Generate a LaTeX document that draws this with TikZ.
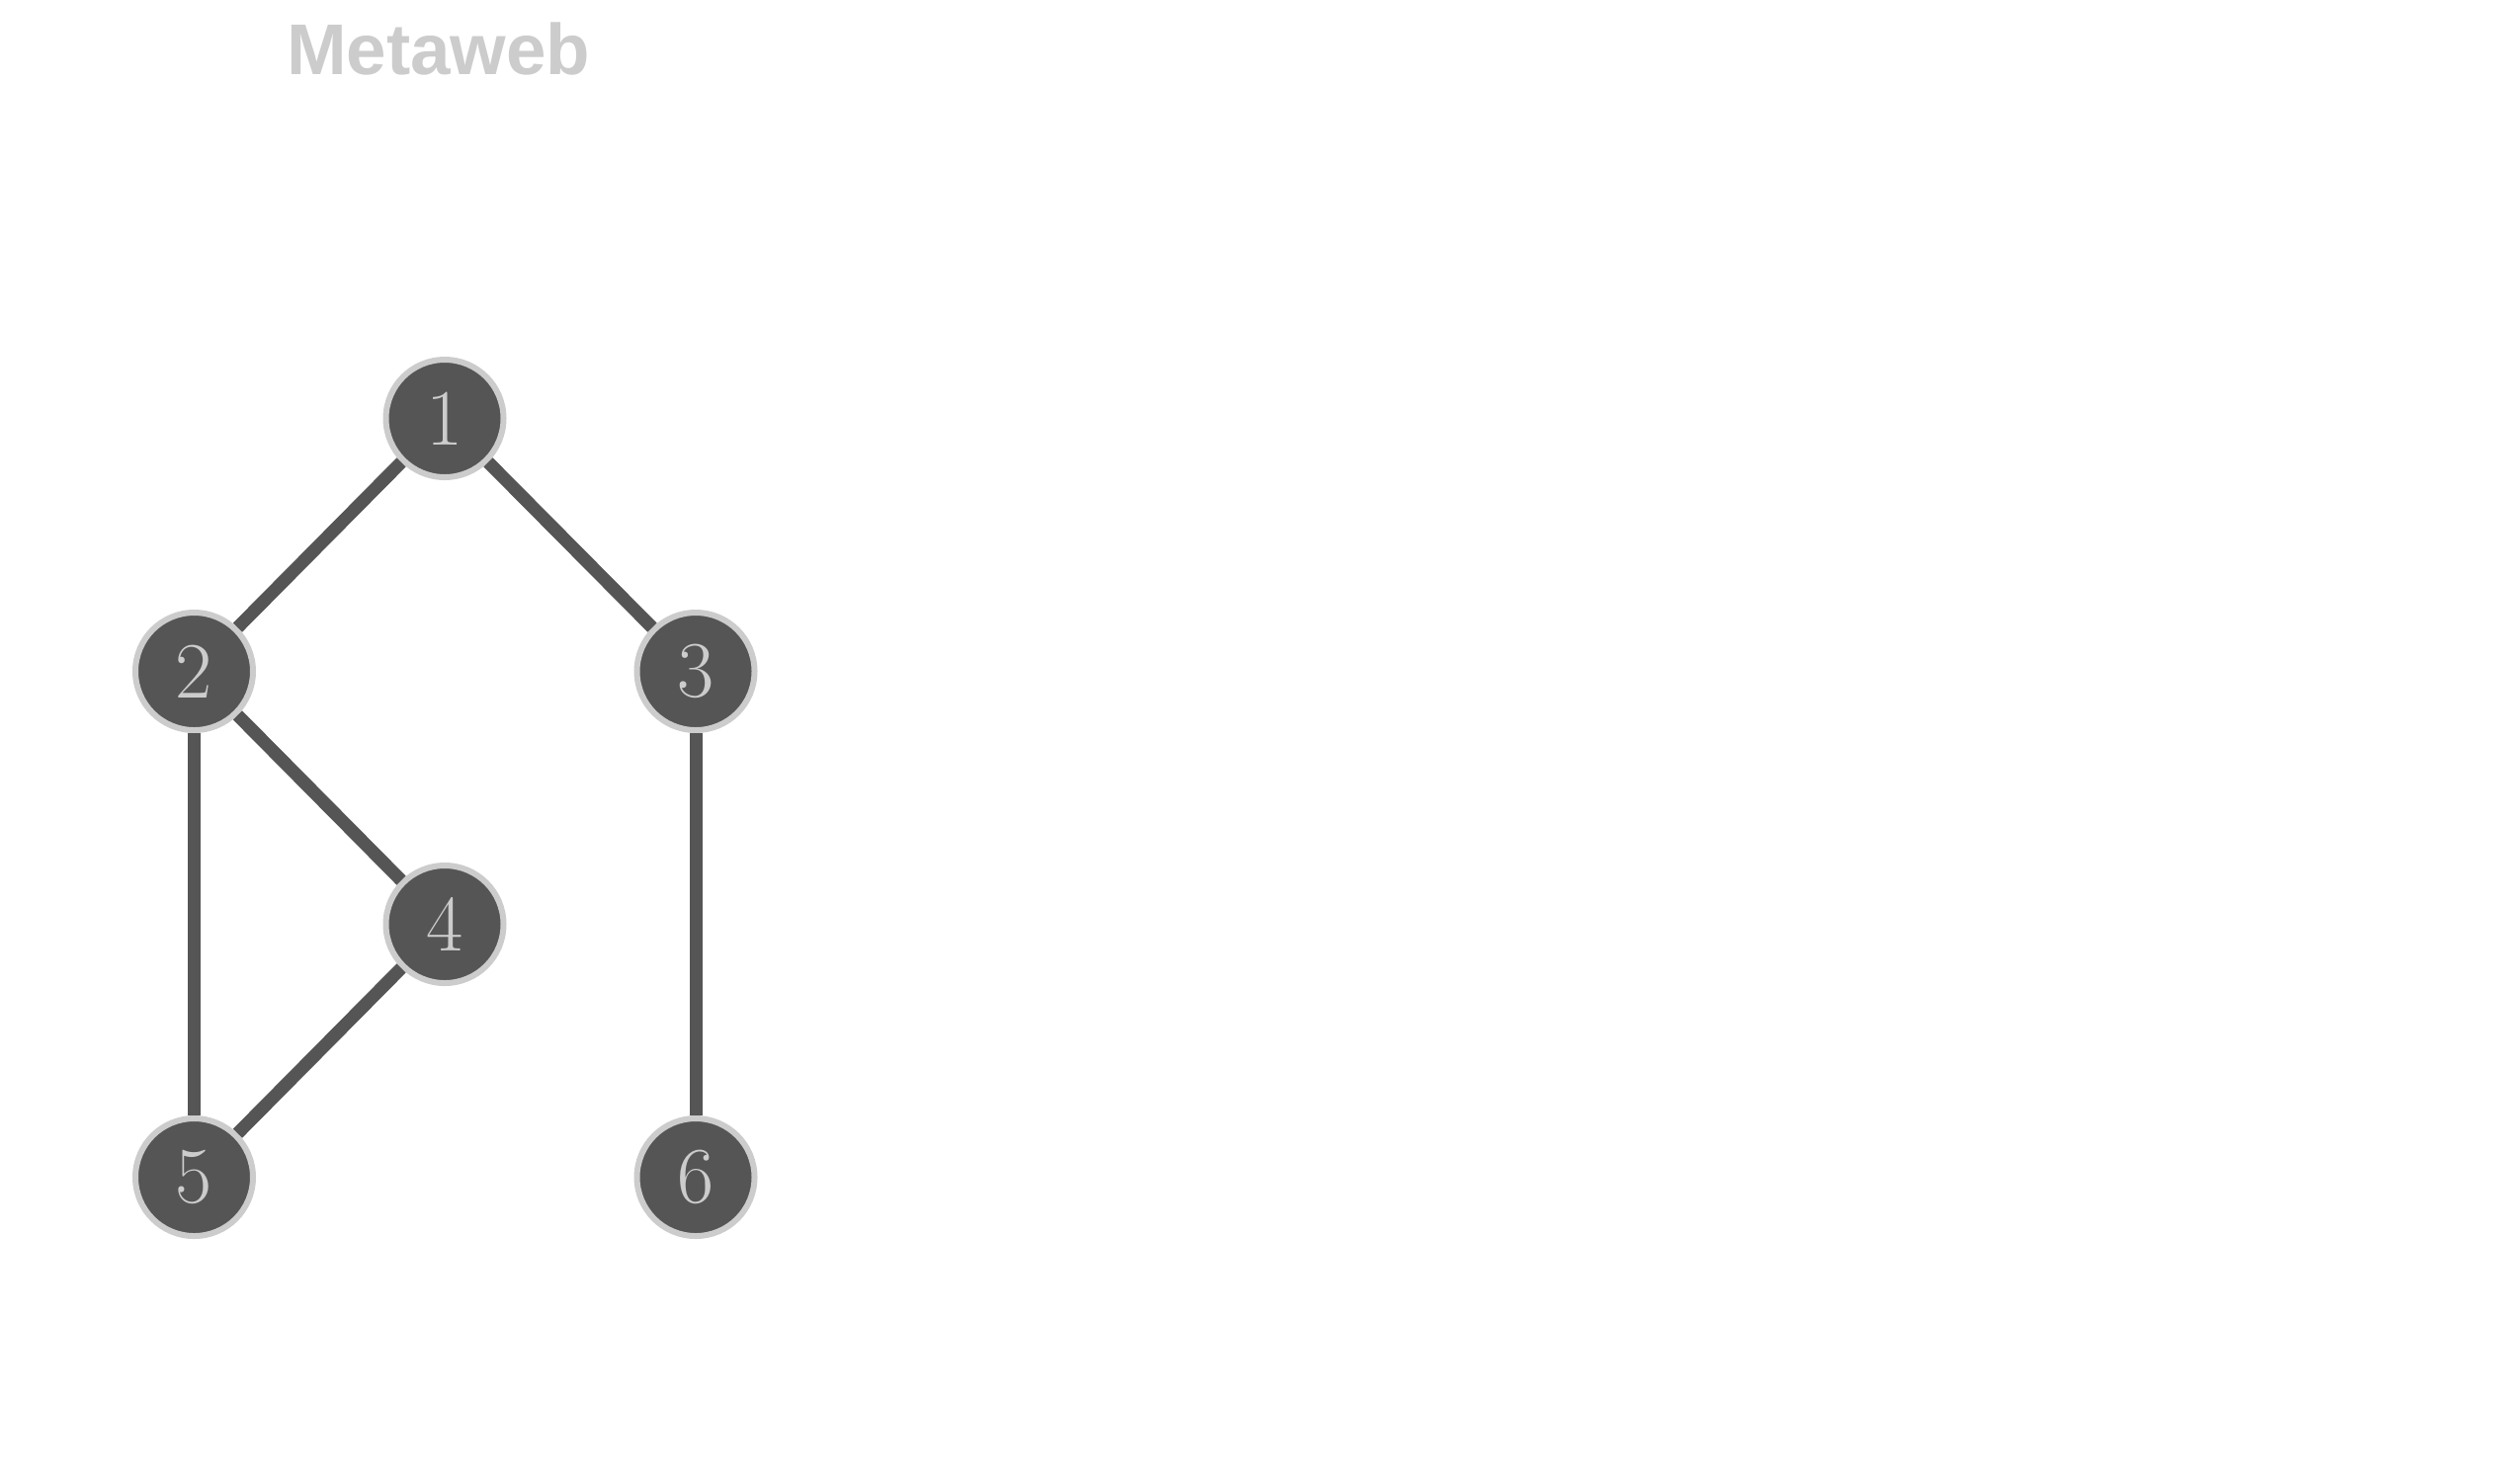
\documentclass[tikz,border=0pt]{standalone}
\usepackage{fontspec}
\newfontfamily\titlefont{Liberation Sans}
\definecolor{nodefill}{HTML}{555555}
\definecolor{lightgrey}{HTML}{CCCCCC}
\begin{document}
\begin{tikzpicture}[main/.style = {draw=lightgrey,circle,fill=nodefill,line width=0.6mm,minimum size=11.9mm,inner sep=0pt,text=lightgrey,font=\fontsize{23}{23}\selectfont}, edge/.style = {draw=nodefill,line width=1.3mm}] 
  \useasboundingbox (0,0) rectangle (25.5,-15);
  \node[anchor=base,text=lightgrey,font=\titlefont\bfseries\fontsize{20.7}{20.7}\selectfont] (title) at (4.437,-0.75) {Metaweb};
  \node[main] (1) at (4.50,-4.235) {1}; 
  \node[main] (2) at (1.965,-6.795) {2}; 
  \node[main] (3) at (7.04,-6.795) {3}; 
  \node[main] (4) at (4.50,-9.355) {4}; 
  \node[main] (5) at (1.965,-11.915) {5}; 
  \node[main] (6) at (7.04,-11.915) {6}; 
  \draw[edge] (1) to (2);
  \draw[edge] (1) to (3);
  \draw[edge] (2) to (4);
  \draw[edge] (2) to (5);
  \draw[edge] (4) to (5);
  \draw[edge] (3) to (6);
\end{tikzpicture}
\end{document}
